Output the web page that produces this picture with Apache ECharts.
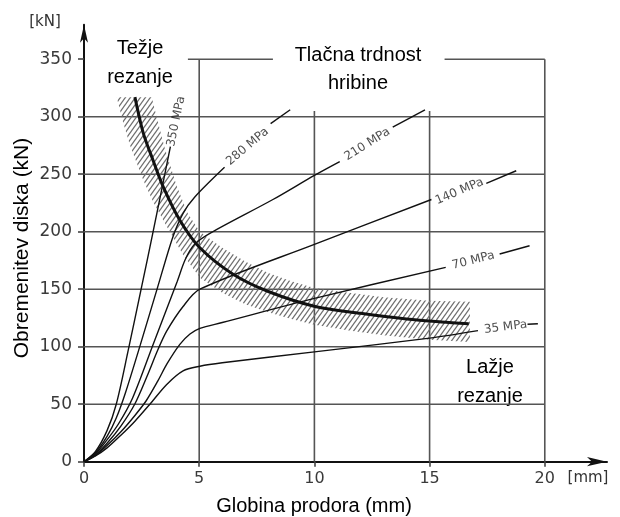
<!DOCTYPE html>
<html lang="sl">
<head>
<meta charset="UTF-8">
<title>Obremenitev diska</title>
<script src="https://cdn.jsdelivr.net/npm/echarts@6/dist/echarts.min.js"></script>
<style>html,body{margin:0;background:#fff}</style>
</head>
<body>
<div id="container" style="width:620px;height:517px"></div>
<script>
// [globina prodora mm, obremenitev kN] - odčitano z diagrama
var mpa350 = [[0,0],[0.5,9],[1.0,27],[1.4,50],[1.9,95],[2.5,152],[3.0,200],[3.75,274]]
var mpa280 = [[0,0],[0.5,8],[1.0,22],[1.4,38],[1.8,60],[2.45,102],[3.2,152],[3.85,195],[4.3,216],[4.8,230],[6.1,256]]
var mpa280b = [[8.1,294],[8.95,306]]
var mpa210 = [[0,0],[0.5,7],[1.0,19],[1.5,33],[2.1,55],[3.0,102],[4.05,157],[4.4,176],[4.8,189],[5.5,199],[8.2,228],[10,249],[11.1,261]]
var mpa210b = [[13.4,291],[14.8,306]]
var mpa140 = [[0,0],[0.5,6],[1.0,16],[1.6,31],[2.2,50],[2.75,75],[3.22,98],[3.6,114],[4.3,135],[5.03,150],[10,189],[15.08,228]]
var mpa140b = [[17.46,242],[18.76,253]]
var mpa70 = [[0,0],[0.5,5.5],[1.0,14],[1.6,26],[2.2,40],[2.7,53],[3.2,70],[3.6,85],[4.16,102],[4.6,111],[5.03,116],[6,121],[10,142],[15.7,169]]
var mpa70b = [[18.04,180.6],[19.34,187.8]]
var mpa35 = [[0,0],[0.5,5],[1.0,12],[1.6,23],[2.2,35],[2.86,50],[3.58,67],[4.3,79],[5.03,83],[6,86],[10,95.5],[15,107.5],[17.1,114]]
var mpa35b = [[19.25,119.5],[19.7,120]]

// meja med težjim in lažjim rezanjem + šrafiran pas
var mejaRezanja = [[2.21,317],[2.57,286],[3.0,262],[3.44,239],[4.16,210],[5.03,186],[6.47,163],[8,148],[10.03,135],[12,129],[14,124],[15.5,121.5],[16.7,120]]
var pasZgoraj = [[2.94,317],[3.2,296],[3.5,273],[4.02,240],[4.5,216],[5.03,200],[6,186],[7,174],[8,164],[9,157],[10,151],[11.5,147],[13,143],[15,140],[16.75,139]]
var pasSpodaj = [[1.42,317],[1.7,295],[2.0,275],[2.57,245],[3.0,226],[3.58,205],[4.3,180],[5.03,160],[6,147],[7,137],[8,130],[9,124],[10,119],[11.5,114],[13,110],[15,106],[16.75,104]]

// oznake krivulj
var oznake = ['350 MPa','280 MPa','210 MPa','140 MPa','70 MPa','35 MPa']
var oznakePoz = [[4.0,296],[7.1,274],[12.3,276],[16.3,235],[16.9,175],[18.3,117]]
var oznakeRot = [78,40,32,23,14,7]

// mreža
var xTicks = [0,5,10,15,20]
var yTicks = [0,50,100,150,200,250,300,350]
var mrezaY = [50,100,150,200,250,300]
var mrezaX = [5,10,15,20]
var mrezaXVrh = [350,305,305,350]
var oklepaj350 = [[4.51,8.2],[15.65,20]]

var myChart = echarts.init(document.getElementById('container'))

// vzorec šrafure
var hatch = document.createElement('canvas')
hatch.width = 5
hatch.height = 7
var hc = hatch.getContext('2d')
hc.strokeStyle = '#6e6e6e'
hc.lineWidth = 1.3
;[-5, 0, 5].forEach(function (o) {
  hc.beginPath()
  hc.moveTo(o - 5, 14)
  hc.lineTo(o + 10, -7)
  hc.stroke()
})

function krivulja(data, w) {
  return {
    type: 'line', data: data, showSymbol: false, smooth: 0.3, z: 4,
    lineStyle: { color: '#111', width: w || 1.4 }, silent: true
  }
}

var labelFont = '"DejaVu Sans"'
var textFont = '"Liberation Sans", Arial'

myChart.setOption({
  animation: false,
  backgroundColor: '#fff',
  grid: { left: 84, right: 13, top: 24.7, bottom: 55.3 },
  xAxis: {
    type: 'value', min: 0, max: 22.7, interval: 5,
    axisLine: { lineStyle: { color: '#111', width: 2 }, symbol: ['none', 'arrow'], symbolSize: [7, 20] },
    axisTick: { show: true, length: 5, customValues: xTicks, lineStyle: { color: '#444', width: 1.6 } },
    axisLabel: { customValues: xTicks, margin: 9, fontSize: 16, color: '#3a3a3a', fontFamily: labelFont,
      formatter: function (v) { return v > 20 ? '' : v } },
    splitLine: { show: false }
  },
  yAxis: {
    type: 'value', min: 0, max: 380, interval: 50,
    axisLine: { lineStyle: { color: '#111', width: 2 }, symbol: ['none', 'arrow'], symbolSize: [6, 18] },
    axisTick: { show: true, length: 6, customValues: yTicks, lineStyle: { color: '#444', width: 1.6 } },
    axisLabel: { customValues: yTicks, margin: 12, fontSize: 17, color: '#3a3a3a', fontFamily: labelFont,
      formatter: function (v) { return v > 350 ? '' : v } },
    splitLine: { show: false }
  },
  graphic: [
    { type: 'text', x: 45, y: 22, style: { text: '[kN]', font: '15px ' + labelFont, fill: '#333', align: 'center', verticalAlign: 'middle' } },
    { type: 'text', x: 588, y: 478, style: { text: '[mm]', font: '15px ' + labelFont, fill: '#333', align: 'center', verticalAlign: 'middle' } },
    { type: 'text', x: 140, y: 48, style: { text: 'Težje', font: '20px ' + textFont, fill: '#000', align: 'center', verticalAlign: 'middle' } },
    { type: 'text', x: 140, y: 77, style: { text: 'rezanje', font: '20px ' + textFont, fill: '#000', align: 'center', verticalAlign: 'middle' } },
    { type: 'text', x: 358, y: 55, style: { text: 'Tlačna trdnost', font: '20px ' + textFont, fill: '#000', align: 'center', verticalAlign: 'middle' } },
    { type: 'text', x: 358, y: 83, style: { text: 'hribine', font: '20px ' + textFont, fill: '#000', align: 'center', verticalAlign: 'middle' } },
    { type: 'text', x: 490, y: 367, style: { text: 'Lažje', font: '20px ' + textFont, fill: '#000', align: 'center', verticalAlign: 'middle' } },
    { type: 'text', x: 490, y: 396, style: { text: 'rezanje', font: '20px ' + textFont, fill: '#000', align: 'center', verticalAlign: 'middle' } },
    { type: 'text', x: 22, y: 248, rotation: Math.PI / 2, style: { text: 'Obremenitev diska (kN)', font: '21px ' + textFont, fill: '#000', align: 'center', verticalAlign: 'middle' } },
    { type: 'text', x: 314, y: 506, style: { text: 'Globina prodora (mm)', font: '20px ' + textFont, fill: '#000', align: 'center', verticalAlign: 'middle' } }
  ],
  series: [
    {
      // mrežne črte
      type: 'custom', data: [[0, 0]], z: 1, silent: true,
      renderItem: function (params, api) {
        var ch = []
        function seg(x1, y1, x2, y2) {
          var a = api.coord([x1, y1]), b = api.coord([x2, y2])
          ch.push({ type: 'line', shape: { x1: a[0], y1: a[1], x2: b[0], y2: b[1] }, style: { stroke: '#555', lineWidth: 1.6 } })
        }
        mrezaY.forEach(function (v) { seg(0, v, 20, v) })
        mrezaX.forEach(function (v, i) { seg(v, 0, v, mrezaXVrh[i]) })
        oklepaj350.forEach(function (s) { seg(s[0], 350, s[1], 350) })
        return { type: 'group', children: ch }
      }
    },
    {
      // šrafiran pas
      type: 'custom', data: [[0, 0]], z: 2, silent: true,
      renderItem: function (params, api) {
        var pts = pasZgoraj.concat(pasSpodaj.slice().reverse()).map(function (p) { return api.coord(p) })
        return { type: 'polygon', shape: { points: pts }, style: { fill: { image: hatch, repeat: 'repeat' }, stroke: null } }
      }
    },
    krivulja(mpa350), krivulja(mpa280), krivulja(mpa280b), krivulja(mpa210), krivulja(mpa210b),
    krivulja(mpa140), krivulja(mpa140b), krivulja(mpa70), krivulja(mpa70b), krivulja(mpa35), krivulja(mpa35b),
    krivulja(mejaRezanja, 3),
    {
      type: 'scatter', symbolSize: 0, z: 5, silent: true,
      data: oznake.map(function (t, i) {
        return { value: oznakePoz[i], name: t, label: { rotate: oznakeRot[i] } }
      }),
      label: { show: true, position: 'inside', formatter: '{b}', fontSize: 12, color: '#222', fontFamily: labelFont }
    }
  ]
})
</script>
</body>
</html>
